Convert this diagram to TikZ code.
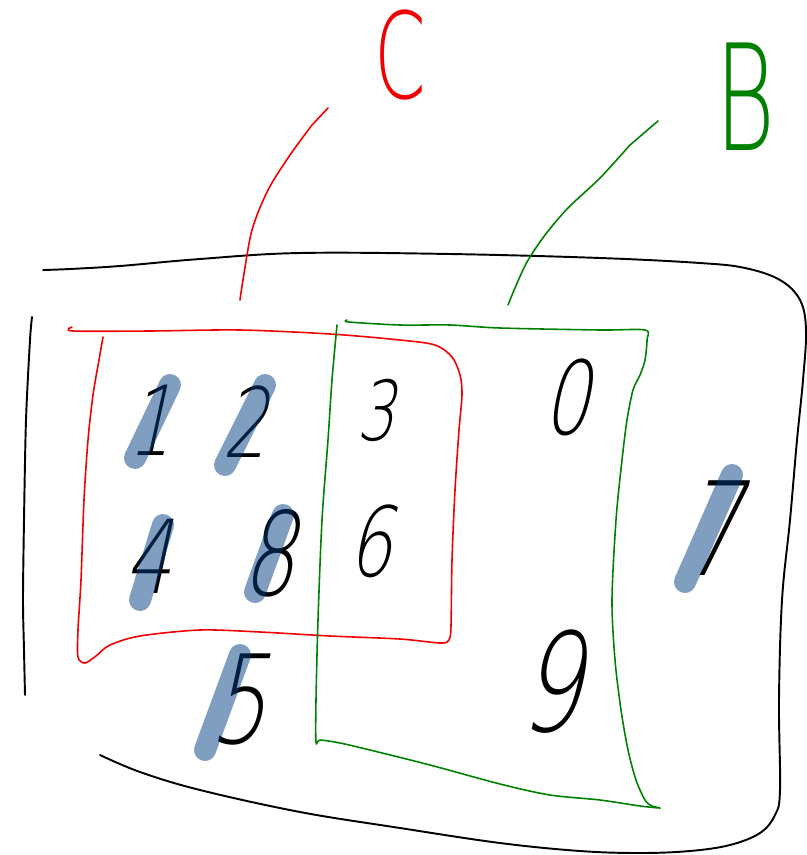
\documentclass[tikz,border=0pt]{standalone}
\usepackage{fontspec}
\newfontfamily\handfont[FakeSlant=0.22, FakeStretch=0.72]{DejaVu Sans ExtraLight}
\newfontfamily\letterfont[FakeStretch=0.62]{DejaVu Sans ExtraLight}
\usepackage{xcolor}
\definecolor{setRed}{RGB}{240,0,0}
\definecolor{setGreen}{RGB}{0,128,0}
\definecolor{markBlue}{RGB}{0,61,129}
\usepackage{tikz}

\begin{document}
\begin{tikzpicture}[
    x=0.02cm, y=-0.02cm,
    outline/.style={black, line width=1.1pt, line cap=round, line join=round},
    csetline/.style={setRed, line width=0.9pt, line cap=round, line join=round},
    bsetline/.style={setGreen, line width=0.9pt, line cap=round, line join=round},
    digit/.style={inner sep=0pt, font=\handfont},
    marker/.style={markBlue, opacity=0.5, line width=0.44cm, line cap=round}
]
\useasboundingbox (0,0) rectangle (807,855);

% outer frame
\draw[outline] plot[smooth, tension=0.6] coordinates {(43,270) (70,269) (120,266) (200,259) (300,253) (450,254) (600,258) (700,263) (745,268) (780,280) (800,300) (806,330) (803,380) (797,440) (790,520) (782,600) (779,700) (780,790) (775,815) (760,833) (730,845) (690,851) (640,853) (580,851) (500,843) (400,828) (300,812) (200,790) (140,772) (100,755)};
\draw[outline] plot[smooth] coordinates {(32,317) (30,340) (26,420) (24,520) (23,600) (24,650) (25,695)};

% set C
\draw[csetline] plot[smooth, tension=0.5] coordinates {(72,327) (73,331) (150,331) (240,330) (330,334) (400,340) (435,345) (452,357) (460,375) (462,395) (459,430) (455,490) (452,560) (451,625) (449,640) (440,643) (400,639) (330,636) (260,632) (200,630) (140,636) (110,645) (96,656) (85,663) (78,657) (78,630) (81,580) (84,500) (88,440) (93,395) (99,360) (103,337)};
\coordinate (ctop) at (237,320);

% set B
\draw[bsetline] plot[smooth, tension=0.5] coordinates {(347,320) (349,322) (400,325) (450,325) (500,328) (600,330) (645,330) (647,340) (645,360) (640,375) (633,390) (627,420) (622,460) (616,520) (612,600) (615,660) (621,710) (628,750) (636,780) (645,800) (652,806) (660,808) (640,806) (600,800) (550,795) (500,784) (430,765) (370,750) (340,743) (320,740) (316,742) (316,700) (318,620) (322,520) (328,440) (332,380) (337,325)};
\coordinate (btop) at (505,323);

% labels
\node[digit, setRed, font=\letterfont\fontsize{68}{68}\selectfont] (clabel) at (400,55) {C};
\node[digit, setGreen, font=\letterfont\fontsize{84}{84}\selectfont] (blabel) at (745,97) {B};
\coordinate (cend) at (328,108);
\coordinate (bend) at (658,121);

\draw[csetline] (ctop) plot[smooth] coordinates {(240,300) (243,280) (252,230) (268,190) (290,155) (312,125)} -- (cend);
\draw[bsetline] (btop) plot[smooth] coordinates {(508,305) (515,288) (527,262) (545,235) (568,208) (600,178) (630,145)} -- (bend);

% elements
\foreach \n/\px/\py/\sz in {1/150/420/55, 2/245/422/55, 3/375/410/47, 0/566/397/58,
    4/148/556/58, 8/268/553/66, 6/370/541/55, 7/710/528/74, 5/238/700/70, 9/550/682/78}
    \node[digit, font=\handfont\fontsize{\sz}{\sz}\selectfont] (d\n) at (\px,\py) {\n};

% crossed out
\foreach \d/\ax/\ay/\bx/\by in {d1/20/-35/-35/73, d2/20/-37/-40/80, d4/15/-31/-23/75,
    d8/15/-38/-28/77, d7/22/-53/-47/107, d5/2/-45/-35/95}
    \draw[marker] (\d) ++(\ax,\ay) -- ++(\bx,\by);
\end{tikzpicture}
\end{document}
